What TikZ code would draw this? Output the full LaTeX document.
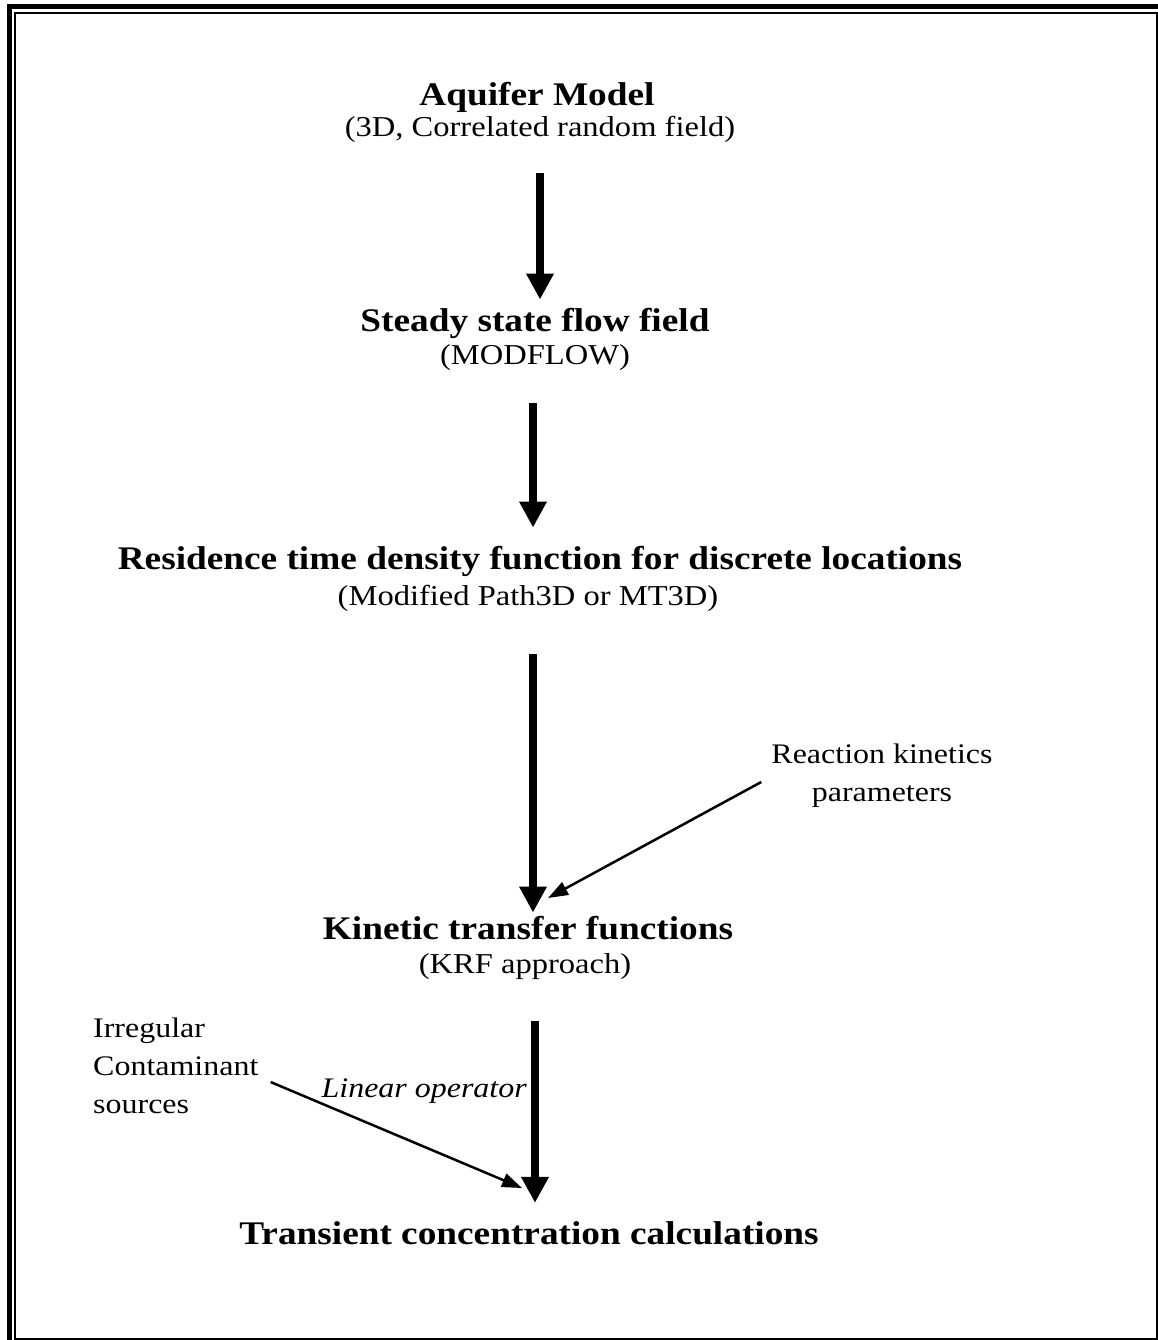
\documentclass[tikz,border=0pt]{standalone}
\usepackage{fontspec}
\setmainfont{Liberation Serif}[FakeStretch=1.13]
\usetikzlibrary{arrows.meta}
\tikzset{
  title/.style={font=\fontsize{33}{38}\selectfont\bfseries,inner sep=0pt,anchor=base},
  sub/.style={font=\fontsize{28.8}{34}\selectfont,inner sep=0pt,anchor=base},
  side/.style={font=\fontsize{28.3}{38}\selectfont,inner sep=0pt,align=center},
  bigarrow/.style={line width=8pt,-{Triangle[width=26pt,length=26pt]}},
  thinarrow/.style={line width=2.5pt,-{Triangle[width=14pt,length=20pt]}}
}
\begin{document}
\begin{tikzpicture}[x=1pt,y=-1pt]
  \useasboundingbox (0,0) rectangle (1158,1340);
  % frame
  \draw[line width=5pt] (9.5,1340) -- (9.5,7) -- (1158,7);
  \draw[line width=2pt] (15,1340) -- (15,13) -- (1158,13);
  \draw[line width=2pt] (1157,13) -- (1157,1339) -- (15,1339);
  % main steps
  \node[title] (t1) at (537,106) {Aquifer Model};
  \node[sub]   (s1) at (540,137) {(3D, Correlated random field)};
  \node[title] (t2) at (535,331) {Steady state flow field};
  \node[sub]   (s2) at (535,364) {(MODFLOW)};
  \node[title] (t3) at (540,569) {Residence time density function for discrete locations};
  \node[sub]   (s3) at (528,605) {(Modified Path3D or MT3D)};
  \node[title] (t4) at (528,939) {Kinetic transfer functions};
  \node[sub]   (s4) at (525,973) {(KRF approach)};
  \node[title] (t5) at (529,1244) {Transient concentration calculations};
  % side inputs
  \node[side] (react) at (882,776) {Reaction kinetics\\parameters};
  \node[side,align=left,anchor=north west] (irr) at (93,1018) {Irregular\\Contaminant\\sources};
  \foreach \a/\b/\dx/\s/\e in {s1/t2/0/30/8, s2/t3/-2/33/18, s3/t4/5/43/3, s4/t5/10/42/18}
    \draw[bigarrow,shorten <=\s pt,shorten >=\e pt] ([xshift=\dx pt]\a.south) -- ([xshift=\dx pt]\a.south |- \b.north);
  \coordinate (kin) at (548,898);
  \coordinate (tra) at (522,1188);
  \draw[thinarrow] (react.west |- 0,782) ++(-10,0) coordinate (r0) -- (kin);
  \draw[thinarrow] ([xshift=12pt]irr.east |- 0,1082) -- (tra);
  \node[sub,font=\fontsize{28.3}{34}\selectfont\itshape,anchor=base east] (lin) at (527,1097) {Linear operator};
\end{tikzpicture}
\end{document}
